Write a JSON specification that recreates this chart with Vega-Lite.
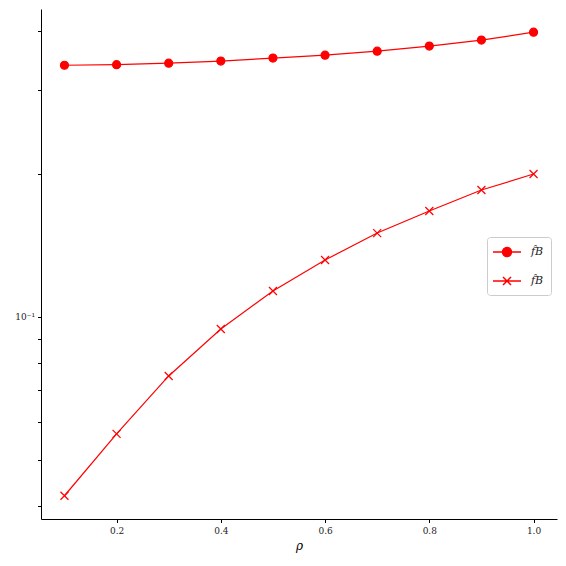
{
  "$schema": "https://vega.github.io/schema/vega-lite/v6.json",
  "width": 516,
  "height": 510,
  "autosize": {"type": "none"},
  "padding": {"left": 41, "top": 9, "right": 9, "bottom": 47},
  "background": "white",
  "config": {
    "view": {"stroke": null},
    "font": "DejaVu Serif",
    "axis": {"grid": false, "domainColor": "black", "tickColor": "black", "labelColor": "#222", "labelFont": "DejaVu Serif", "titleFont": "DejaVu Serif", "titleFontWeight": "normal", "domainWidth": 1, "tickWidth": 1}
  },
  "data": {
    "values": [
      {"rho": 0.1, "value": 0.339, "series": "circ"},
      {"rho": 0.2, "value": 0.340, "series": "circ"},
      {"rho": 0.3, "value": 0.3425, "series": "circ"},
      {"rho": 0.4, "value": 0.346, "series": "circ"},
      {"rho": 0.5, "value": 0.351, "series": "circ"},
      {"rho": 0.6, "value": 0.356, "series": "circ"},
      {"rho": 0.7, "value": 0.363, "series": "circ"},
      {"rho": 0.8, "value": 0.372, "series": "circ"},
      {"rho": 0.9, "value": 0.383, "series": "circ"},
      {"rho": 1.0, "value": 0.398, "series": "circ"},
      {"rho": 0.1, "value": 0.042, "series": "cross"},
      {"rho": 0.2, "value": 0.0567, "series": "cross"},
      {"rho": 0.3, "value": 0.0751, "series": "cross"},
      {"rho": 0.4, "value": 0.0943, "series": "cross"},
      {"rho": 0.5, "value": 0.1134, "series": "cross"},
      {"rho": 0.6, "value": 0.1318, "series": "cross"},
      {"rho": 0.7, "value": 0.1502, "series": "cross"},
      {"rho": 0.8, "value": 0.1672, "series": "cross"},
      {"rho": 0.9, "value": 0.1851, "series": "cross"},
      {"rho": 1.0, "value": 0.2, "series": "cross"}
    ]
  },
  "encoding": {
    "x": {
      "field": "rho", "type": "quantitative",
      "scale": {"domain": [0.055, 1.045], "nice": false, "zero": false},
      "axis": {"values": [0.2, 0.4, 0.6, 0.8, 1.0], "format": ".1f", "labelFontSize": 9, "tickSize": 3.5, "labelPadding": 4, "title": "ρ", "titleFontSize": 12, "titleFontStyle": "italic", "titlePadding": 5}
    },
    "y": {
      "field": "value", "type": "quantitative",
      "scale": {"type": "log", "domain": [0.03752, 0.4454], "nice": false},
      "axis": {"values": [0.04, 0.05, 0.06, 0.07, 0.08, 0.09, 0.1, 0.2, 0.3, 0.4], "labelExpr": "datum.value == 0.1 ? '10⁻¹' : ''", "labelFontSize": 9, "tickSize": 3.5, "labelPadding": 3, "title": null,
        "encode": {"ticks": {"update": {"x2": {"signal": "datum.value == 0.1 ? -3.5 : -2"}}}}}
    }
  },
  "layer": [
    {
      "mark": {"type": "line", "color": "#ff0000", "strokeWidth": 1.2},
      "encoding": {"detail": {"field": "series", "type": "nominal"}}
    },
    {
      "mark": {"type": "point", "fill": "#ff0000", "stroke": "#ff0000", "strokeWidth": 1.2, "opacity": 1, "fillOpacity": 1, "size": 64},
      "encoding": {
        "shape": {
          "field": "series", "type": "nominal",
          "scale": {"domain": ["circ", "cross"], "range": ["circle", "M-1,-1L1,1M-1,1L1,-1"]},
          "legend": null
        }
      }
    },
    {
      "transform": [{"filter": "datum.rho > 5"}],
      "mark": {"type": "point", "fill": "#ff0000", "stroke": "#ff0000", "strokeWidth": 1.2, "opacity": 1, "fillOpacity": 1},
      "encoding": {
        "shape": {
          "field": "series", "type": "nominal",
          "scale": {"domain": ["circ", "cross"], "range": ["M-2,0L2,0M-0.64,0A0.64,0.64 0 1,0 0.64,0A0.64,0.64 0 1,0 -0.64,0Z", "M-2,0L2,0M-0.57,-0.57L0.57,0.57M-0.57,0.57L0.57,-0.57"]},
          "legend": {
            "orient": "none", "legendX": 446, "legendY": 228, "title": null,
            "labelExpr": "'f̂B'", "labelFont": "DejaVu Serif", "labelFontStyle": "italic", "labelFontSize": 11, "labelColor": "#222",
            "symbolSize": 196, "symbolOffset": 5, "labelOffset": 16, "rowPadding": 13, "padding": 7,
            "strokeColor": "#cccccc", "fillColor": "white", "cornerRadius": 3
          }
        }
      }
    }
  ],
  "resolve": {"scale": {"shape": "independent"}}
}
